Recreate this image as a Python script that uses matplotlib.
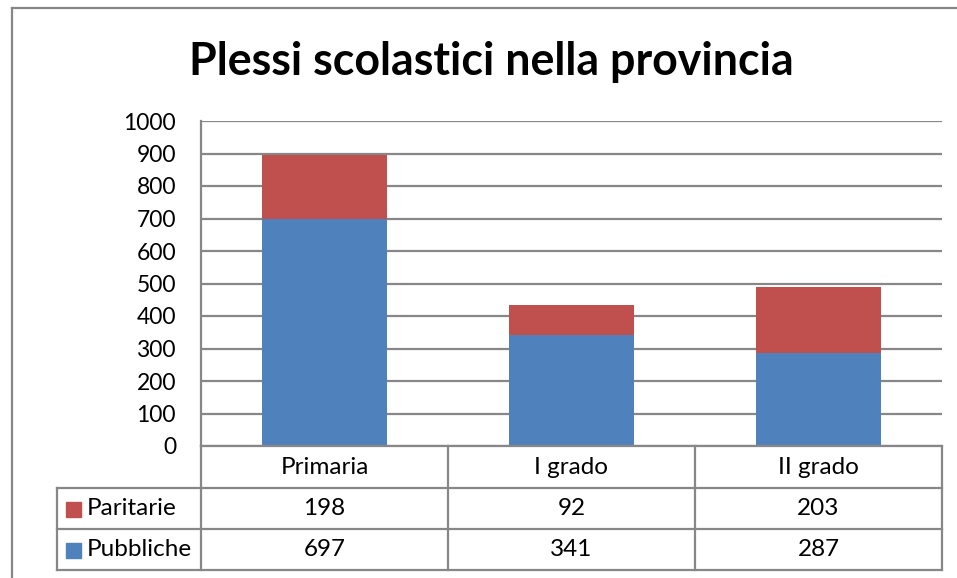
import matplotlib.pyplot as plt
from matplotlib.lines import Line2D

categories = ['Primaria', 'I grado', 'II grado']
pubbliche = [697, 341, 287]
paritarie = [198, 92, 203]
y_ticks = [0, 100, 200, 300, 400, 500, 600, 700, 800, 900, 1000]

blue = '#4F81BD'
red = '#C0504D'
grey = '#878787'

plt.rcParams['font.family'] = ['Lato', 'DejaVu Sans']

W, H = 957, 578
fig = plt.figure(figsize=(W / 100, H / 100), dpi=100)


def fx(px):
    return px / W


def fy(py):
    return 1 - py / H


def hline(y, x0, x1):
    fig.add_artist(Line2D([fx(x0), fx(x1)], [fy(y), fy(y)], color=grey, lw=1.6))


def vline(x, y0, y1):
    fig.add_artist(Line2D([fx(x), fx(x)], [fy(y0), fy(y1)], color=grey, lw=1.6))


# outer chart frame
hline(8, 12, W + 5)
vline(12, 8, H + 5)

left, right, top, bottom = 201, 942, 121, 446
ax = fig.add_axes([fx(left), fy(bottom), fx(right) - fx(left), fy(top) - fy(bottom)])
x = list(range(len(categories)))
ax.bar(x, pubbliche, width=0.51, color=blue, zorder=3)
ax.bar(x, paritarie, width=0.51, bottom=pubbliche, color=red, zorder=3)
ax.set_xlim(-0.5, len(categories) - 0.5)
ax.set_ylim(0, 1000)
ax.set_yticks(y_ticks)
ax.set_yticklabels([str(t) for t in y_ticks], fontsize=16.5)
ax.tick_params(axis='y', length=0, pad=18)
ax.set_xticks([])
ax.grid(axis='y', color=grey, lw=1.6, zorder=0)
for s in ['top', 'right', 'bottom']:
    ax.spines[s].set_visible(False)
ax.spines['left'].set_color(grey)
ax.spines['left'].set_linewidth(1.6)

fig.text(fx(491), fy(62), 'Plessi scolastici nella provincia', ha='center', va='center',
         fontsize=32.2, fontweight='bold')

# data table
col_edges = [201, 448, 695, 942]
row_edges = [446, 488, 529, 570]
hline(row_edges[0], col_edges[0], col_edges[-1])
for y in row_edges[1:]:
    hline(y, 57, col_edges[-1])
vline(57, row_edges[1], row_edges[-1])
vline(col_edges[0], bottom, row_edges[-1])
for xe in col_edges[1:]:
    vline(xe, row_edges[0], row_edges[-1])

fs = 17.5
for i, cat in enumerate(categories):
    cx = (col_edges[i] + col_edges[i + 1]) / 2
    fig.text(fx(cx), fy((row_edges[0] + row_edges[1]) / 2), cat, ha='center', va='center', fontsize=fs)
    fig.text(fx(cx), fy((row_edges[1] + row_edges[2]) / 2), str(paritarie[i]), ha='center', va='center', fontsize=fs)
    fig.text(fx(cx), fy((row_edges[2] + row_edges[3]) / 2), str(pubbliche[i]), ha='center', va='center', fontsize=fs)

series = [('Paritarie', red), ('Pubbliche', blue)]
for j, (name, col) in enumerate(series):
    cy = (row_edges[j + 1] + row_edges[j + 2]) / 2
    fig.add_artist(plt.Rectangle((fx(66), fy(cy + 8)), fx(15), fy(0) - fy(15), color=col))
    fig.text(fx(87), fy(cy), name, ha='left', va='center', fontsize=fs)

fig.savefig('out.png', dpi=100)
